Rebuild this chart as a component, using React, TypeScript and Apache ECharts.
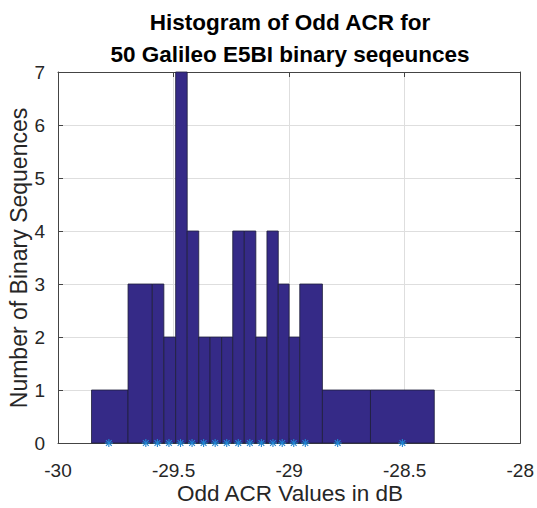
import React, { useEffect, useRef } from "react";
import * as echarts from "echarts";

// Histogram bin edges (dB)
const binEdges = [
  -29.855, -29.697, -29.592, -29.542, -29.491, -29.441, -29.391, -29.342,
  -29.292, -29.244, -29.194, -29.144, -29.096, -29.047, -29.0, -28.954,
  -28.856, -28.648, -28.372,
];
// Count in each bin
const binCounts = [1, 3, 3, 2, 7, 4, 2, 2, 2, 4, 4, 2, 4, 3, 2, 3, 1, 1];
// Bin centre markers (asterisks on the x axis)
const centreMarkers = [
  -29.78, -29.62, -29.57, -29.52, -29.47, -29.42, -29.37, -29.32, -29.27,
  -29.22, -29.17, -29.12, -29.07, -29.03, -28.98, -28.93, -28.79, -28.51,
];
const xTicks = [-30, -29.5, -29, -28.5, -28];
const yTicks = [0, 1, 2, 3, 4, 5, 6, 7];

const titleLines = ["Histogram of Odd ACR for", "50 Galileo E5BI binary seqeunces"];
const xLabel = "Odd ACR Values in dB";
const yLabel = "Number of Binary Sequences";

const FONT = "'Liberation Sans', Arial, Helvetica, sans-serif";

export default function App() {
  const ref = useRef<HTMLDivElement>(null);

  useEffect(() => {
    if (!ref.current) return;
    const chart = echarts.init(ref.current, undefined, { renderer: "svg" });

    const bars = binCounts.map((c, i) => [binEdges[i], binEdges[i + 1], c]);
    const stars = centreMarkers.map((v) => [v, 0]);

    const axisLineColor = "#444444";
    const gridColor = "#dedede";
    const xMin = xTicks[0];
    const xMax = xTicks[xTicks.length - 1];
    const yMin = yTicks[0];
    const yMax = yTicks[yTicks.length - 1];

    const option: any = {
      animation: false,
      backgroundColor: "#ffffff",
      grid: { left: 58, right: 15, top: 72, bottom: 65, containLabel: false },
      xAxis: [
        {
          type: "value",
          position: "bottom",
          min: xMin,
          max: xMax,
          interval: 0.5,
          axisLine: { show: true, onZero: false, lineStyle: { color: axisLineColor, width: 1 } },
          axisTick: { show: true, inside: true, length: 5, lineStyle: { color: axisLineColor } },
          splitLine: { show: true, lineStyle: { color: gridColor, width: 1 } },
          axisLabel: {
            fontSize: 19,
            fontFamily: FONT,
            color: "#262626",
            margin: 18,
            formatter: (v: number) => String(v),
          },
        },
        {
          type: "value",
          position: "top",
          min: xMin,
          max: xMax,
          interval: 0.5,
          axisLine: { show: true, onZero: false, lineStyle: { color: axisLineColor, width: 1 } },
          axisTick: { show: true, inside: true, length: 5, lineStyle: { color: axisLineColor } },
          splitLine: { show: false },
          axisLabel: { show: false },
        },
      ],
      yAxis: [
        {
          type: "value",
          position: "left",
          min: yMin,
          max: yMax,
          interval: 1,
          axisLine: { show: true, onZero: false, lineStyle: { color: axisLineColor, width: 1 } },
          axisTick: { show: true, inside: true, length: 5, lineStyle: { color: axisLineColor } },
          splitLine: { show: true, lineStyle: { color: gridColor, width: 1 } },
          axisLabel: { fontSize: 19, fontFamily: FONT, color: "#262626", margin: 13 },
        },
        {
          type: "value",
          position: "right",
          min: yMin,
          max: yMax,
          interval: 1,
          axisLine: { show: true, onZero: false, lineStyle: { color: axisLineColor, width: 1 } },
          axisTick: { show: true, inside: true, length: 5, lineStyle: { color: axisLineColor } },
          splitLine: { show: false },
          axisLabel: { show: false },
        },
      ],
      series: [
        {
          type: "custom",
          xAxisIndex: 0,
          yAxisIndex: 0,
          data: bars,
          encode: { x: [0, 1], y: 2 },
          renderItem: (_params: any, api: any) => {
            const p0 = api.coord([api.value(0), api.value(2)]);
            const p1 = api.coord([api.value(1), 0]);
            return {
              type: "rect",
              shape: { x: p0[0], y: p0[1], width: p1[0] - p0[0], height: p1[1] - p0[1] },
              style: { fill: "#352A87", stroke: "#1e1e3a", lineWidth: 0.8 },
            };
          },
          z: 2,
        },
        {
          type: "custom",
          xAxisIndex: 0,
          yAxisIndex: 0,
          data: stars,
          encode: { x: 0, y: 1 },
          clip: false,
          renderItem: (_params: any, api: any) => {
            const p = api.coord([api.value(0), api.value(1)]);
            const r = 4;
            const d = r * 0.72;
            const st = { stroke: "#1f84d2", lineWidth: 1.1 };
            return {
              type: "group",
              children: [
                { type: "line", shape: { x1: p[0], y1: p[1] - r, x2: p[0], y2: p[1] + r }, style: st },
                { type: "line", shape: { x1: p[0] - r, y1: p[1], x2: p[0] + r, y2: p[1] }, style: st },
                { type: "line", shape: { x1: p[0] - d, y1: p[1] - d, x2: p[0] + d, y2: p[1] + d }, style: st },
                { type: "line", shape: { x1: p[0] - d, y1: p[1] + d, x2: p[0] + d, y2: p[1] - d }, style: st },
              ],
            };
          },
          z: 5,
        },
      ],
      graphic: [
        {
          type: "text",
          x: 290,
          y: 22,
          style: {
            text: titleLines[0],
            textAlign: "center",
            textVerticalAlign: "middle",
            font: `bold 22.5px ${FONT}`,
            fill: "#000000",
          },
        },
        {
          type: "text",
          x: 290,
          y: 54,
          style: {
            text: titleLines[1],
            textAlign: "center",
            textVerticalAlign: "middle",
            font: `bold 22.5px ${FONT}`,
            fill: "#000000",
          },
        },
        {
          type: "text",
          x: 290,
          y: 493,
          style: {
            text: xLabel,
            textAlign: "center",
            textVerticalAlign: "middle",
            font: `22.5px ${FONT}`,
            fill: "#262626",
          },
        },
        {
          type: "text",
          x: 19,
          y: 258,
          rotation: Math.PI / 2,
          style: {
            text: yLabel,
            textAlign: "center",
            textVerticalAlign: "middle",
            font: `23px ${FONT}`,
            fill: "#262626",
          },
        },
      ],
    };

    chart.setOption(option);
    return () => chart.dispose();
  }, []);

  return (
    <div
      ref={ref}
      style={{ position: "fixed", left: 0, top: 0, width: 537, height: 508, background: "#fff" }}
    />
  );
}
